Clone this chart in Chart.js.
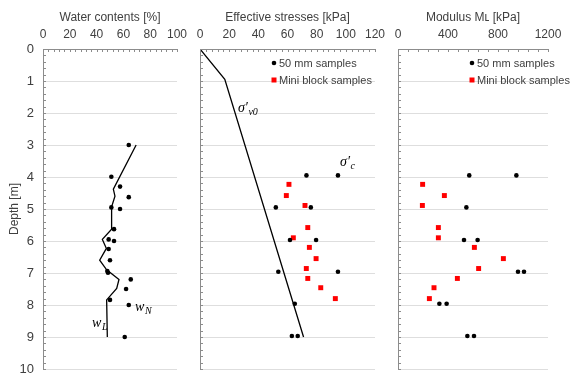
<!DOCTYPE html>
<html>
<head>
<meta charset="utf-8">
<script src="https://cdn.jsdelivr.net/npm/chart.js@4.4.1/dist/chart.umd.min.js"></script>
<style>
  body { margin: 0; background: #fff; }
  #wrap { position: relative; width: 576px; height: 379px; overflow: hidden; }
  canvas { position: absolute; top: 0; }
</style>
</head>
<body>
<div id="wrap">
  <canvas id="c1" width="188" height="379" style="left:0"></canvas>
  <canvas id="c2" width="200" height="379" style="left:186px"></canvas>
  <canvas id="c3" width="192" height="379" style="left:384px"></canvas>
</div>
<script>
// water contents [%]
var wnDepth = [3.0, 3.99, 4.3, 4.63, 4.95, 5.0, 5.63, 5.95, 6.0, 6.25, 6.6, 6.94, 6.99, 7.2, 7.5, 7.84, 8.0, 9.0];
var wnValue = [64, 51, 57.5, 64, 51, 57.5, 53, 49, 53, 49, 50, 48, 48.5, 65.5, 62, 50, 64, 61];
var wlDepth = [3.0, 4.38, 4.6, 4.93, 5.63, 5.95, 6.23, 6.6, 6.9, 7.2, 7.48, 7.84, 9.0];
var wlValue = [69.5, 52.5, 53.7, 51.2, 51.2, 44.3, 47.3, 42.3, 47.5, 56.7, 55, 47.5, 48];

// effective stresses [kPa]
var sv0Depth = [0, 0.95, 9.0];
var sv0Value = [0, 17, 71];
var d50 = [3.95, 3.95, 4.95, 4.95, 5.97, 5.97, 6.96, 6.96, 7.96, 8.97, 8.97];
var sc50 = [73, 94.6, 52, 76, 61.7, 79.6, 53.7, 94.6, 65, 63, 67];
var dMini = [4.23, 4.58, 4.89, 5.58, 5.9, 6.2, 6.55, 6.86, 7.17, 7.46, 7.8];
var scMini = [61, 59.2, 72, 73.9, 64, 75, 79.6, 72.9, 73.9, 82.8, 92.8];

// modulus ML [kPa]
var dM50 = [3.95, 3.95, 4.95, 5.97, 5.97, 6.96, 6.96, 7.96, 7.96, 8.97, 8.97];
var m50 = [570, 947, 547, 528, 637, 960, 1008, 331, 389, 555, 608];
var mMini = [197, 371, 195, 323, 323, 611, 843, 645, 475, 288, 251];

var depthTicks = [0, 10];

function pts(xs, ys) {
    return xs.map(function (v, i) { return {x: v, y: ys[i]}; });
}

var dark = '#404040';
var axisGray = '#8c8c8c';

function lineSet(xs, ys) {
    return {data: pts(xs, ys), showLine: true, pointRadius: 0, borderColor: '#000', borderWidth: 1.3};
}
function dotSet(label, xs, ys) {
    return {label: label, data: pts(xs, ys), pointRadius: 2.3, pointStyle: 'circle',
        backgroundColor: '#000', borderWidth: 0};
}
function squareSet(label, xs, ys) {
    return {label: label, data: pts(xs, ys), pointRadius: 3.5, pointStyle: 'rect',
        backgroundColor: '#ff0000', borderWidth: 0};
}

// small inside tick marks, Excel style
var minorTicks = {
    id: 'minorTicks',
    afterDraw: function (chart, args, o) {
        var ctx = chart.ctx, a = chart.chartArea, sx = chart.scales.x, sy = chart.scales.y;
        ctx.save();
        ctx.strokeStyle = axisGray;
        ctx.lineWidth = 1;
        ctx.beginPath();
        for (var i = 0; i * o.xStep <= sx.max + 1e-9; i++) {
            var px = Math.round(sx.getPixelForValue(i * o.xStep)) + 0.5;
            ctx.moveTo(px, a.top); ctx.lineTo(px, a.top + 3);
        }
        for (var j = 0; j * 0.2 <= depthTicks[1] + 1e-9; j++) {
            var py = Math.round(sy.getPixelForValue(j * 0.2)) + 0.5;
            ctx.moveTo(a.left, py); ctx.lineTo(a.left + 3, py);
        }
        ctx.stroke();
        ctx.restore();
    }
};

var legendBox = {
    id: 'legendBox',
    afterDatasetsDraw: function (chart, args, o) {
        if (!o.show) return;
        var ctx = chart.ctx, a = chart.chartArea;
        var x = a.left + 74, y = a.top + 14;
        ctx.save();
        ctx.font = '11px "Liberation Sans", Arial, sans-serif';
        ctx.textBaseline = 'middle';
        chart.data.datasets.forEach(function (ds) {
            if (!ds.label) return;
            ctx.fillStyle = ds.backgroundColor;
            if (ds.pointStyle === 'rect') {
                ctx.fillRect(x - 2.5, y - 2.5, 5, 5);
            } else {
                ctx.beginPath(); ctx.arc(x, y, 2.3, 0, Math.PI * 2); ctx.fill();
            }
            ctx.fillStyle = dark;
            ctx.fillText(ds.label, x + 5, y + 0.5);
            y += 17;
        });
        ctx.restore();
    }
};

// italic math labels next to the curves
var notes = {
    id: 'notes',
    afterDatasetsDraw: function (chart, args, o) {
        if (!o.items) return;
        var ctx = chart.ctx;
        ctx.save();
        ctx.fillStyle = '#000';
        ctx.textBaseline = 'alphabetic';
        o.items.forEach(function (it) {
            var px = chart.scales.x.getPixelForValue(it.x);
            var py = chart.scales.y.getPixelForValue(it.y);
            ctx.font = 'italic 14px "Liberation Serif", serif';
            ctx.fillText(it.main, px, py);
            px += ctx.measureText(it.main).width;
            ctx.font = 'italic 10px "Liberation Serif", serif';
            ctx.fillText(it.sub, px + 0.5, py + 3);
        });
        ctx.restore();
    }
};

function panel(id, cfg) {
    return new Chart(document.getElementById(id), {
        type: 'scatter',
        data: {datasets: cfg.datasets},
        options: {
            responsive: false,
            animation: false,
            events: [],
            layout: {padding: cfg.padding},
            plugins: {
                legend: {display: false},
                tooltip: {enabled: false},
                minorTicks: {xStep: cfg.minor},
                legendBox: {show: cfg.legend},
                notes: {items: cfg.notes}
            },
            scales: {
                x: {
                    type: 'linear', position: 'top', min: 0, max: cfg.max,
                    ticks: {stepSize: cfg.step, color: dark, padding: 7,
                        callback: function (v) { return String(v); },
                        font: {family: '"Liberation Sans", Arial, sans-serif', size: 12}},
                    grid: {color: 'rgba(0,0,0,0)', drawTicks: false},
                    border: {color: axisGray},
                    title: {display: true, text: cfg.title, color: dark, padding: {top: 10},
                        font: {family: '"Liberation Sans", Arial, sans-serif', size: 12}},
                    afterFit: function (s) { s.height = 49; s.paddingLeft = 0; s.paddingRight = 0; }
                },
                y: {
                    type: 'linear', reverse: true, min: depthTicks[0], max: depthTicks[1],
                    ticks: {stepSize: 1, display: cfg.depthAxis, color: dark, padding: 9,
                        font: {family: '"Liberation Sans", Arial, sans-serif', size: 13}},
                    grid: {color: '#dedede', drawTicks: false},
                    border: {color: axisGray},
                    title: {display: cfg.depthAxis, text: 'Depth [m]', color: dark, padding: {top: 7},
                        font: {family: '"Liberation Sans", Arial, sans-serif', size: 12}},
                    afterFit: function (s) { s.width = cfg.yWidth; s.paddingTop = 0; s.paddingBottom = 0; }
                }
            }
        },
        plugins: [minorTicks, legendBox, notes]
    });
}

panel('c1', {
    title: 'Water contents [%]', max: 100, step: 20, minor: 4,
    depthAxis: true, yWidth: 43, legend: false,
    padding: {left: 0, top: 0, right: 11, bottom: 10},
    datasets: [lineSet(wlValue, wlDepth), dotSet(null, wnValue, wnDepth)],
    notes: [{main: 'w', sub: 'N', x: 68.7, y: 8.19}, {main: 'w', sub: 'L', x: 36.6, y: 8.69}]
});

panel('c2', {
    title: 'Effective stresses [kPa]', max: 120, step: 20, minor: 4,
    depthAxis: false, yWidth: 0, legend: true,
    padding: {left: 14, top: 0, right: 11, bottom: 10},
    datasets: [lineSet(sv0Value, sv0Depth), dotSet('50 mm samples', sc50, d50),
        squareSet('Mini block samples', scMini, dMini)],
    notes: [{main: 'σ′', sub: 'v0', x: 26, y: 1.97}, {main: 'σ′', sub: 'c', x: 96, y: 3.66}]
});

panel('c3', {
    title: 'Modulus M\u029F [kPa]', max: 1200, step: 400, minor: 80,
    depthAxis: false, yWidth: 0, legend: true,
    padding: {left: 14, top: 0, right: 28, bottom: 10},
    datasets: [dotSet('50 mm samples', m50, dM50), squareSet('Mini block samples', mMini, dMini)],
    notes: null
});
</script>
</body>
</html>
